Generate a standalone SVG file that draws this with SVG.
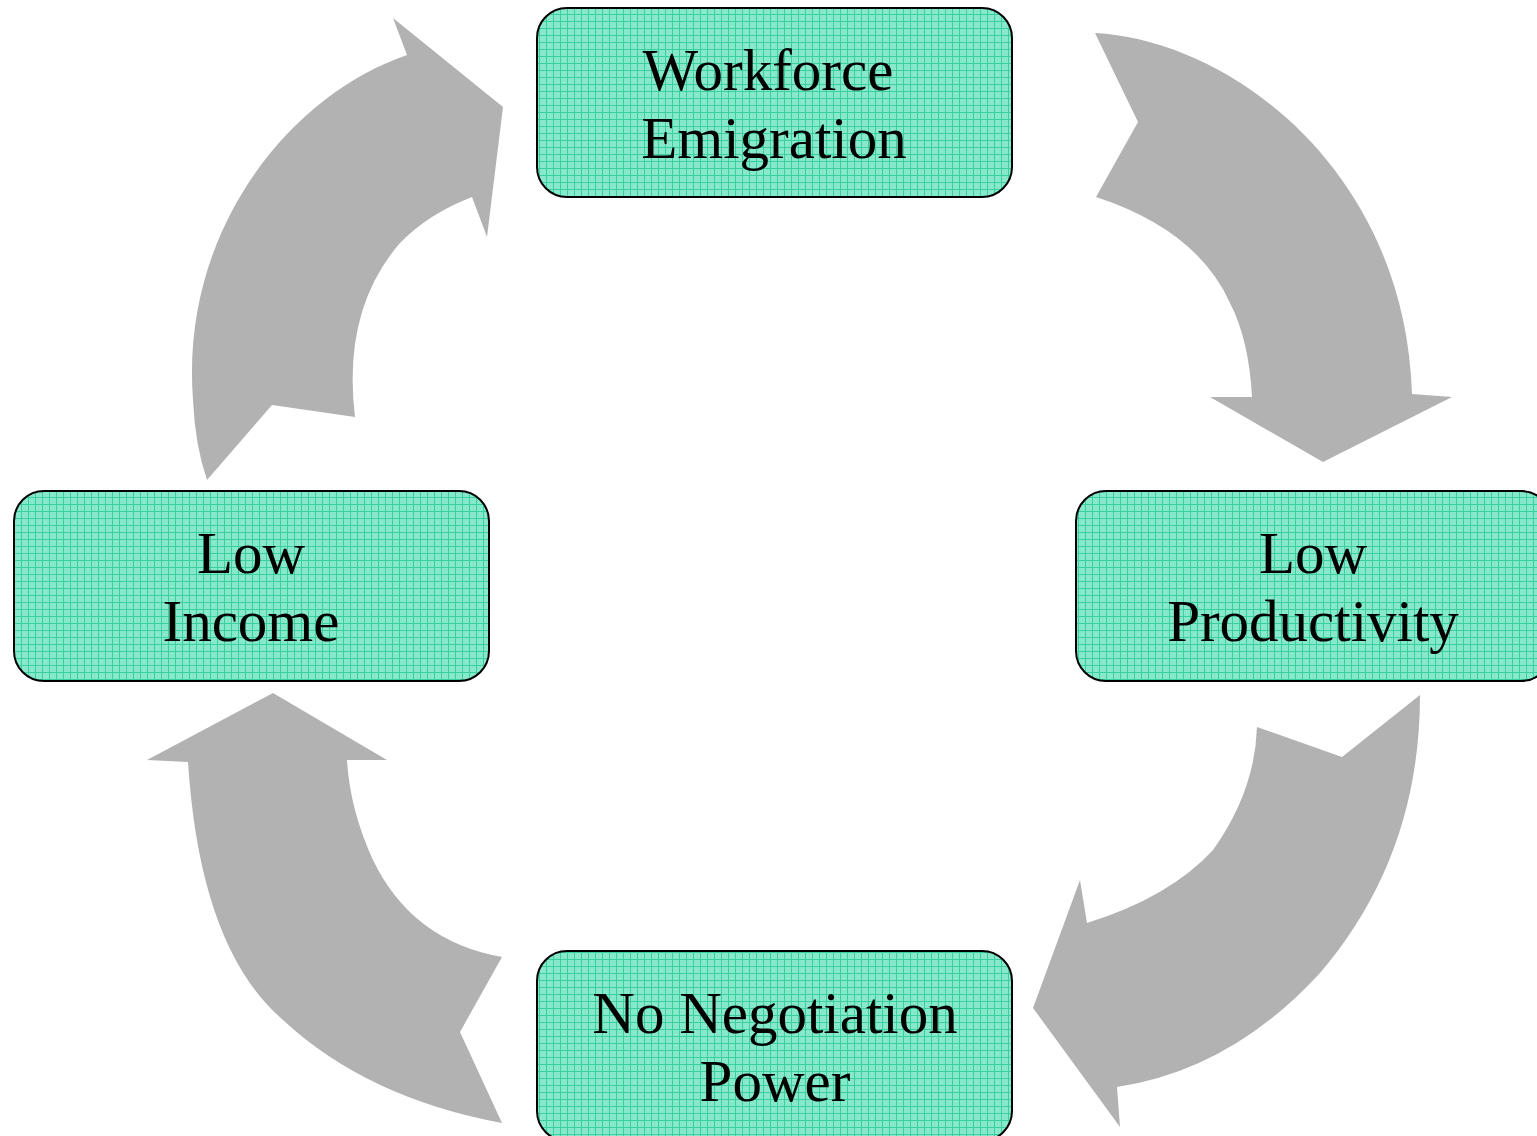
<svg xmlns="http://www.w3.org/2000/svg" width="1537" height="1136" viewBox="0 0 1537 1136">
<defs>
<pattern id="grid" x="0" y="0" width="7" height="7" patternUnits="userSpaceOnUse">
<rect width="7" height="7" fill="#88e8cc"/>
<path d="M0,0.5 H7 M0.5,0 V7" stroke="#3acf9f" stroke-width="1" fill="none"/>
</pattern>
<style>
.box{fill:url(#grid);stroke:#000;stroke-width:2}
.lbl{font-family:"Liberation Serif","Times New Roman",serif;font-size:59px;fill:#000;text-anchor:middle}
.arr{fill:#b2b2b2;stroke:none}
</style>
</defs>
<rect width="1537" height="1136" fill="#fff"/>
<g id="connectors">
<path class="arr" d="M1095,33 L1138,122 L1096,197 Q1197,230 1230,303 Q1249,340 1252,397 L1210,397 L1323,462 L1452,397 L1412,394 C1405,170 1230,40 1095,33 Z"/>
<path class="arr" d="M1420,695 L1342,757 L1257,727 Q1255,791 1213,850 Q1170,897 1087,923 L1080,880 L1033,1008 L1120,1127 L1117,1087 Q1231,1070 1320,973 Q1420,856 1420,695 Z"/>
<path class="arr" d="M502,1123 L460,1032 L502,957 Q412,941 373,860 Q350,810 347,760 L387,760 L273,693 L147,760 L188,762 Q200,949 283,1020 Q367,1098 502,1123 Z"/>
<path class="arr" d="M207,480 L272,405 L355,417 Q342,310 400,243 Q428,214 472,197 L487,237 L503,107 L393,18 L407,55 C290,95 180,230 193,400 Q195,445 207,480 Z"/>
</g>
<g id="node-workforce">
<rect class="box" x="537" y="8" width="475" height="189" rx="30"/>
<text class="lbl" x="768" y="90">Workforce</text>
<text class="lbl" x="774" y="158">Emigration</text>
</g>
<g id="node-low-productivity">
<rect class="box" x="1076" y="491" width="475" height="190" rx="30"/>
<text class="lbl" x="1313" y="573">Low</text>
<text class="lbl" x="1313" y="641">Productivity</text>
</g>
<g id="node-no-negotiation">
<rect class="box" x="537" y="951" width="475" height="190" rx="30"/>
<text class="lbl" x="775" y="1033">No Negotiation</text>
<text class="lbl" x="775" y="1101">Power</text>
</g>
<g id="node-low-income">
<rect class="box" x="14" y="491" width="475" height="190" rx="30"/>
<text class="lbl" x="251" y="573">Low</text>
<text class="lbl" x="251" y="641">Income</text>
</g>
</svg>
